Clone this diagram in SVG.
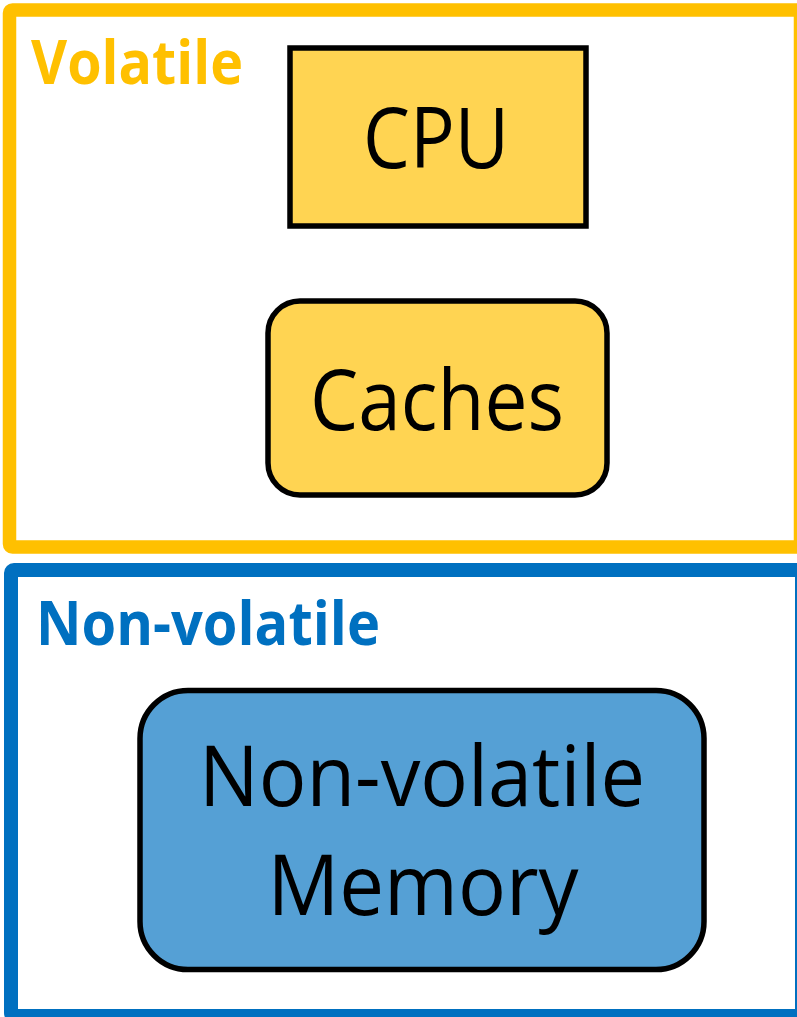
<svg xmlns="http://www.w3.org/2000/svg" width="797" height="1017" viewBox="0 0 797 1017">
  <style>
    .lbl { font-family: "Open Sans", "Liberation Sans", sans-serif; font-weight: bold; font-size: 61px; }
    .node-text { font-family: "Open Sans", "Liberation Sans", sans-serif; font-size: 84px; fill: #000000; text-anchor: middle; }
    .node-box { stroke: #000000; stroke-width: 5.5; }
    .yellow { fill: #FFD452; }
    .blue { fill: #55A0D5; }
  </style>
  <rect width="797" height="1017" fill="#FFFFFF"/>
  <g id="volatile-region">
    <rect x="9.5" y="10" width="791" height="537" rx="3" fill="none" stroke="#FFC000" stroke-width="13.5"/>
    <text class="lbl" x="31" y="84" fill="#FFC000" textLength="212" lengthAdjust="spacingAndGlyphs">Volatile</text>
  </g>
  <g id="nonvolatile-region">
    <rect x="11" y="570" width="791" height="446" rx="3" fill="none" stroke="#0070C0" stroke-width="14"/>
    <text class="lbl" x="36" y="645" fill="#0070C0" textLength="344" lengthAdjust="spacingAndGlyphs">Non-volatile</text>
  </g>
  <g id="cpu">
    <rect class="node-box yellow" x="290" y="48" width="296" height="178"/>
    <text class="node-text" x="436" y="168" textLength="146" lengthAdjust="spacingAndGlyphs">CPU</text>
  </g>
  <g id="caches">
    <rect class="node-box yellow" x="268" y="301" width="339" height="194" rx="32"/>
    <text class="node-text" x="437" y="430" textLength="254" lengthAdjust="spacingAndGlyphs">Caches</text>
  </g>
  <g id="nvm">
    <rect class="node-box blue" x="140" y="690.5" width="564" height="279" rx="48"/>
    <text class="node-text" x="422" y="806" textLength="446" lengthAdjust="spacingAndGlyphs">Non-volatile</text>
    <text class="node-text" x="423" y="915" textLength="311" lengthAdjust="spacingAndGlyphs">Memory</text>
  </g>
  <g id="connectors"></g>
</svg>
